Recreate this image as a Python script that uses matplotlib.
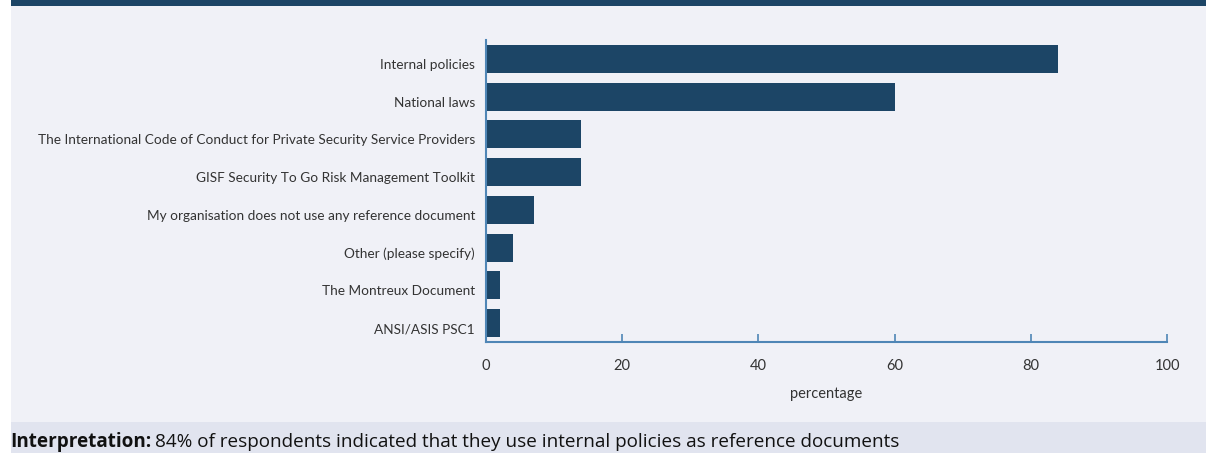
import matplotlib.pyplot as plt
from matplotlib.patches import Rectangle
from matplotlib.transforms import ScaledTranslation

categories = [
    "Internal policies",
    "National laws",
    "The International Code of Conduct for Private Security Service Providers",
    "GISF Security To Go Risk Management Toolkit",
    "My organisation does not use any reference document",
    "Other (please specify)",
    "The Montreux Document",
    "ANSI/ASIS PSC1",
]
values = [84, 60, 14, 14, 7, 4, 2, 2]
x_ticks = [0, 20, 40, 60, 80, 100]

bar_color = "#1c4566"
bg_color = "#f0f1f7"
band_color = "#e1e4ef"
axis_color = "#4f86b6"
text_color = "#333333"

plt.rcParams["font.family"] = ["Lato", "DejaVu Sans"]

fig = plt.figure(figsize=(12.06, 4.53), dpi=100)
fig.patch.set_facecolor("white")

W, H = 1206, 453
# light background panel, top dark header strip, bottom interpretation band
fig.patches.append(Rectangle((11 / W, 0), 1, 1, transform=fig.transFigure,
                             facecolor=bg_color, edgecolor="none", zorder=-3))
fig.patches.append(Rectangle((11 / W, 1 - 6 / H), 1, 6 / H, transform=fig.transFigure,
                             facecolor=bar_color, edgecolor="none", zorder=-2))
fig.patches.append(Rectangle((11 / W, 0), 1, 31 / H, transform=fig.transFigure,
                             facecolor=band_color, edgecolor="none", zorder=-2))

ax = fig.add_axes([486 / W, 1 - 342 / H, (1167 - 486) / W, (342 - 40) / H])
ax.set_facecolor("none")

y = list(range(len(categories)))
ax.barh(y, values, height=0.74, color=bar_color)
ax.set_ylim(len(categories) - 0.5, -0.5)
ax.set_xlim(0, 100)
ax.set_yticks(y)
ax.set_yticklabels(categories, fontsize=9.8, color=text_color)
ax.tick_params(axis="y", length=0, pad=8)
# labels sit a little below the bar centres in the original
shift = ScaledTranslation(0, -5 / 100, fig.dpi_scale_trans)
for lab in ax.get_yticklabels():
    lab.set_transform(lab.get_transform() + shift)
ax.set_xticks(x_ticks)
ax.tick_params(axis="x", direction="in", length=6, width=1.2, color=axis_color,
               labelsize=10.5, labelcolor=text_color, pad=12)
ax.set_xlabel("percentage", fontsize=10.5, color=text_color, labelpad=10)

for s in ["top", "right"]:
    ax.spines[s].set_visible(False)
for s in ["left", "bottom"]:
    ax.spines[s].set_color(axis_color)
    ax.spines[s].set_linewidth(1.5)

t1 = fig.text(10 / W, 1 - 442 / H, "Interpretation:", fontsize=13.6,
              fontweight="bold", color="#111111", va="center", family="Open Sans")
fig.canvas.draw()
bb = t1.get_window_extent()
fig.text((bb.x1 + 4) / W, 1 - 442 / H,
         "84% of respondents indicated that they use internal policies as reference documents",
         fontsize=13.6, color="#111111", va="center", family="Open Sans")

fig.savefig("out.png", dpi=100, facecolor=fig.get_facecolor())
